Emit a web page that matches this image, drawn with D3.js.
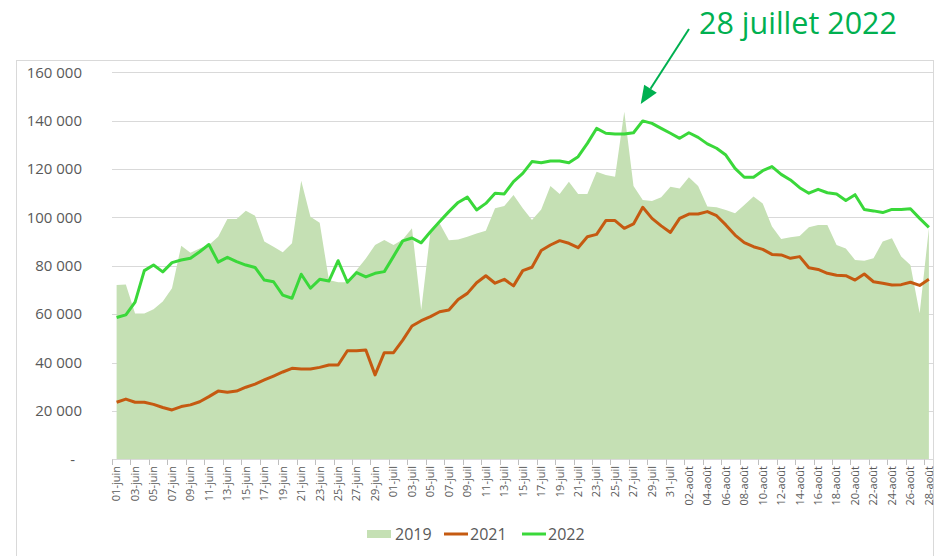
<!DOCTYPE html>
<html>
<head>
<meta charset="utf-8">
<script src="https://cdn.jsdelivr.net/npm/d3@7"></script>
<style>
  body { margin: 0; background: #fff; }
  svg { display: block; font-family: 'Open Sans', sans-serif; }
</style>
</head>
<body>
<svg id="chart" width="939" height="556"></svg>
<script>
// categories : 01-juin .. 28-août
const moisFr = ['janv', 'févr', 'mars', 'avr', 'mai', 'juin', 'juil', 'août']
const jours = d3.timeDays(new Date(2022, 5, 1), new Date(2022, 7, 29))
const categories = jours.map(d => String(d.getDate()).padStart(2, '0') + '-' + moisFr[d.getMonth()])

const yTicks = [0, 20000, 40000, 60000, 80000, 100000, 120000, 140000, 160000]

// valeurs (en milliers)
const v2019 = [72.1, 72.3, 60.3, 60.3, 62.0, 65.2, 70.7, 88.3, 85.4, 87.2,
  88.6, 92.0, 99.4, 99.4, 102.8, 100.7, 90.0, 87.9, 85.6, 89.3,
  115.2, 100.3, 97.8, 74.1, 73.2, 73.2, 78.3, 83.0, 88.6, 90.7,
  88.6, 90.9, 95.5, 61.7, 94.1, 97.5, 90.6, 90.9, 92.0, 93.4,
  94.5, 103.8, 104.7, 109.3, 103.8, 98.9, 103.3, 113.0, 109.7, 114.8,
  109.7, 109.7, 118.9, 117.5, 116.8, 143.7, 113.0, 107.2, 106.8, 108.3,
  112.7, 112.0, 116.6, 113.0, 104.5, 104.2, 103.1, 101.7, 105.1, 108.6,
  105.8, 96.2, 91.1, 91.8, 92.3, 95.9, 96.9, 96.9, 88.6, 87.2,
  82.4, 82.1, 83.1, 90.0, 91.4, 83.8, 80.3, 60.4, 95.5]

const v2021 = [23.6, 24.9, 23.6, 23.6, 22.7, 21.4, 20.4, 21.8, 22.5, 23.8,
  25.9, 28.2, 27.7, 28.2, 29.8, 31.1, 32.8, 34.4, 36.1, 37.6,
  37.3, 37.3, 38.0, 39.0, 39.0, 44.9, 44.9, 45.2, 34.9, 44.1,
  44.1, 49.3, 55.1, 57.3, 59.0, 61.0, 61.7, 66.1, 68.6, 73.0,
  75.9, 72.8, 74.4, 71.7, 78.0, 79.4, 86.3, 88.6, 90.4, 89.3,
  87.5, 92.0, 93.0, 98.7, 98.7, 95.5, 97.3, 104.2, 99.6, 96.5,
  93.8, 99.6, 101.4, 101.4, 102.4, 100.7, 96.9, 92.7, 89.6, 87.9,
  86.8, 84.7, 84.5, 83.1, 83.8, 79.2, 78.5, 76.9, 76.1, 75.9,
  74.1, 76.6, 73.4, 72.8, 72.1, 72.2, 73.2, 71.9, 74.4]

const v2022 = [58.6, 59.7, 65.0, 78.0, 80.3, 77.5, 81.3, 82.4, 83.1, 85.8,
  88.8, 81.5, 83.5, 81.7, 80.3, 79.3, 74.1, 73.4, 67.9, 66.6,
  76.5, 70.7, 74.4, 73.7, 82.1, 73.2, 77.2, 75.4, 76.9, 77.6,
  83.9, 90.3, 91.5, 89.5, 94.1, 98.3, 102.4, 106.2, 108.4, 103.1,
  105.8, 110.0, 109.7, 114.8, 118.2, 123.1, 122.6, 123.3, 123.3, 122.6,
  125.1, 130.6, 136.8, 134.8, 134.5, 134.5, 135.0, 139.9, 138.9, 136.8,
  134.8, 132.7, 135.0, 133.1, 130.4, 128.6, 125.8, 120.3, 116.6, 116.6,
  119.3, 121.0, 117.8, 115.5, 112.3, 110.0, 111.6, 110.2, 109.7, 107.0,
  109.4, 103.3, 102.7, 102.0, 103.3, 103.3, 103.6, 99.6, 95.9]

const annotation = '28 juillet 2022'
const picDay = '28-juil'

const col2019 = '#C5E0B4'
const col2021 = '#C55A11'
const col2022 = '#3AD83A'
const colAnnot = '#00B050'
const grid = '#D9D9D9'
const txt = '#595959'

const svg = d3.select('#chart')

const x = d3.scaleBand().domain(categories).range([112, 933.5])
const cx = d => x(d) + x.bandwidth() / 2
const y = d3.scaleLinear().domain([0, 160000]).range([459.3, 72.3])

// cadre du graphique
svg.append('rect')
  .attr('x', 16.5).attr('y', 60.5).attr('width', 917).attr('height', 520)
  .attr('fill', 'none').attr('stroke', grid)

// quadrillage
svg.append('g').selectAll('line')
  .data(yTicks.slice(1))
  .enter().append('line')
    .attr('x1', 112).attr('x2', 933.5)
    .attr('y1', d => Math.round(y(d)) + 0.5).attr('y2', d => Math.round(y(d)) + 0.5)
    .attr('stroke', grid)

// 2019 en aire
const area = d3.area()
  .x((d, i) => cx(categories[i]))
  .y0(y(0))
  .y1(d => y(d * 1000))
svg.append('path')
  .datum(v2019)
  .attr('d', area)
  .attr('fill', col2019)

const line = d3.line()
  .x((d, i) => cx(categories[i]))
  .y(d => y(d * 1000))

svg.append('path').datum(v2021)
  .attr('d', line).attr('fill', 'none')
  .attr('stroke', col2021).attr('stroke-width', 3).attr('stroke-linejoin', 'round')

svg.append('path').datum(v2022)
  .attr('d', line).attr('fill', 'none')
  .attr('stroke', col2022).attr('stroke-width', 3).attr('stroke-linejoin', 'round')

// axe des x
const xAxis = svg.append('g')
xAxis.append('line')
  .attr('x1', 112).attr('x2', 933.5).attr('y1', 459.5).attr('y2', 459.5)
  .attr('stroke', grid)
xAxis.selectAll('line.tick')
  .data(categories.filter((d, i) => i % 2 === 0))
  .enter().append('line')
    .attr('class', 'tick')
    .attr('x1', d => Math.round(x(d)) + 0.5).attr('x2', d => Math.round(x(d)) + 0.5)
    .attr('y1', 459.5).attr('y2', 465)
    .attr('stroke', '#BFBFBF')
xAxis.selectAll('text')
  .data(categories.filter((d, i) => i % 2 === 0))
  .enter().append('text')
    .attr('transform', d => `translate(${cx(d)},466) rotate(-90)`)
    .attr('dy', '0.35em')
    .attr('text-anchor', 'end')
    .attr('font-size', 11)
    .attr('fill', txt)
    .text(d => d)

// axe des y
const fmt = v => v === 0 ? '-' : d3.format(',')(v).replace(/,/g, ' ')
svg.append('g').selectAll('text')
  .data(yTicks)
  .enter().append('text')
    .attr('x', d => d === 0 ? 75 : 82)
    .attr('y', d => y(d))
    .attr('dy', '0.35em')
    .attr('text-anchor', 'end')
    .attr('font-size', 15)
    .attr('fill', txt)
    .text(fmt)

// légende
const leg = svg.append('g').attr('font-size', 16).attr('fill', txt)
leg.append('rect').attr('x', 367).attr('y', 530).attr('width', 24).attr('height', 8).attr('fill', col2019)
leg.append('text').attr('x', 395).attr('y', 534).attr('dy', '0.35em').text('2019')
leg.append('line').attr('x1', 444).attr('x2', 468).attr('y1', 534).attr('y2', 534)
  .attr('stroke', col2021).attr('stroke-width', 3)
leg.append('text').attr('x', 470).attr('y', 534).attr('dy', '0.35em').text('2021')
leg.append('line').attr('x1', 522).attr('x2', 546).attr('y1', 534).attr('y2', 534)
  .attr('stroke', col2022).attr('stroke-width', 3)
leg.append('text').attr('x', 548).attr('y', 534).attr('dy', '0.35em').text('2022')

// annotation du pic
const tip = [cx(picDay) - 2, y(v2022[categories.indexOf(picDay)] * 1000) - 17]
const start = [689, 29]
const dx = tip[0] - start[0], dy = tip[1] - start[1]
const len = Math.hypot(dx, dy)
const ux = dx / len, uy = dy / len
const headL = 18, headW = 7.5
const base = [tip[0] - headL * ux, tip[1] - headL * uy]
svg.append('line')
  .attr('x1', start[0]).attr('y1', start[1]).attr('x2', base[0]).attr('y2', base[1])
  .attr('stroke', colAnnot).attr('stroke-width', 2)
svg.append('polygon')
  .attr('points', [tip, [base[0] + headW * uy, base[1] - headW * ux], [base[0] - headW * uy, base[1] + headW * ux]].map(p => p.join(',')).join(' '))
  .attr('fill', colAnnot)
svg.append('text')
  .attr('x', 699).attr('y', 34)
  .attr('font-size', 30.5)
  .attr('fill', colAnnot)
  .text(annotation)
</script>
</body>
</html>
